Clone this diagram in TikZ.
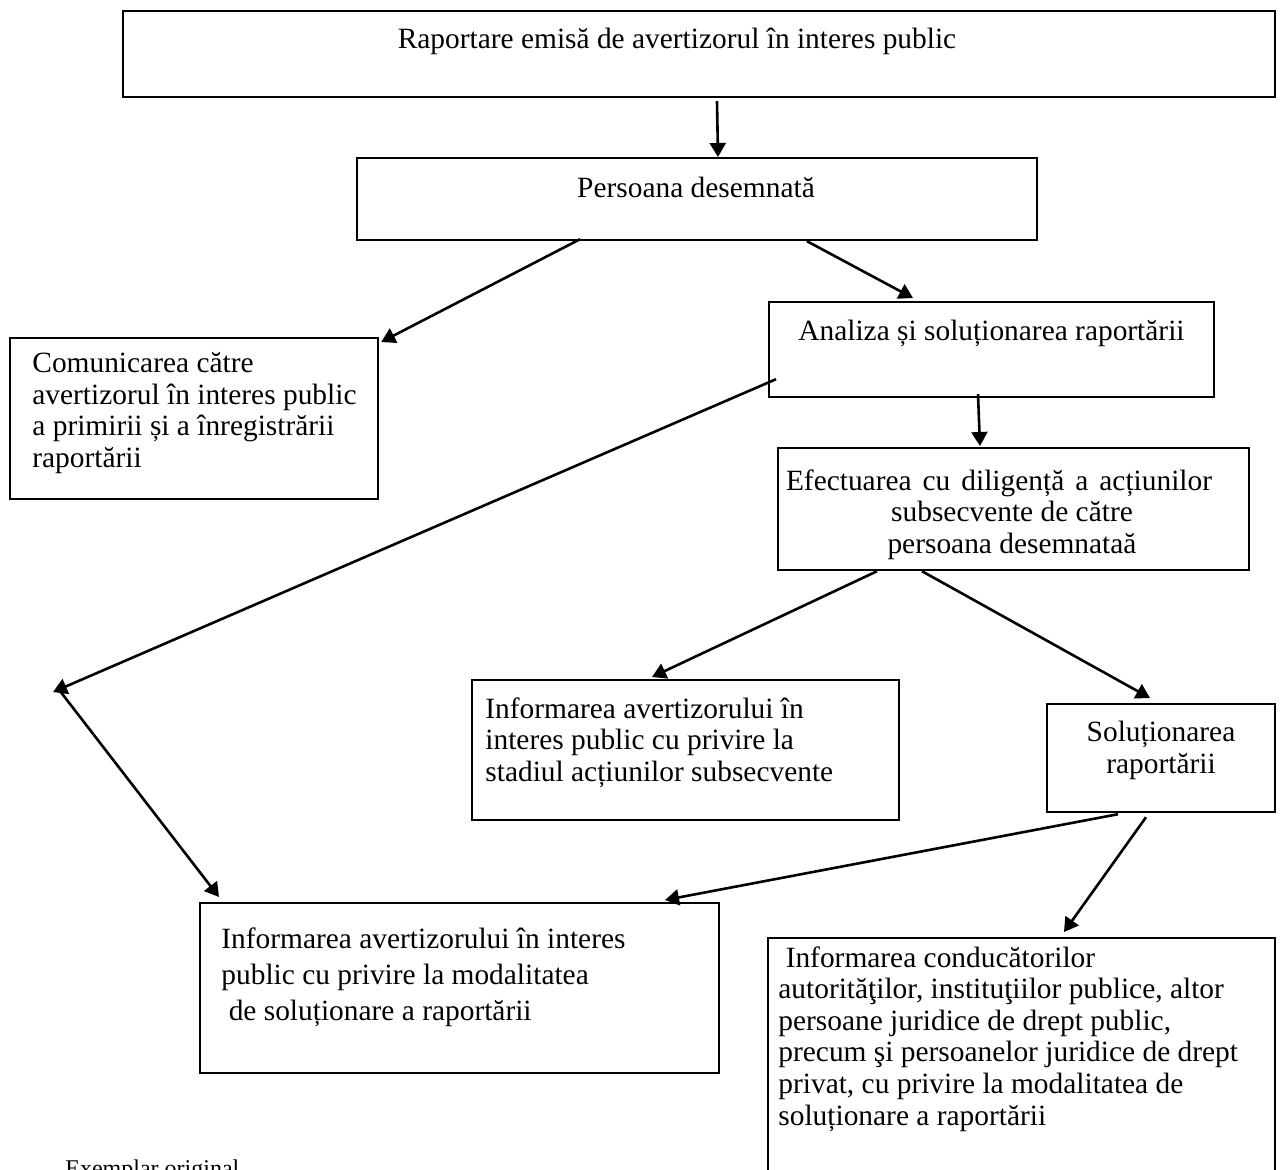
\documentclass[tikz,border=0pt]{standalone}
\usepackage{fontspec}
\setmainfont{Liberation Serif}
\usetikzlibrary{arrows.meta,calc}

\tikzset{
	box/.style={draw, line width=1.1pt, anchor=north west, inner sep=0pt},
	txt/.style={font=\fontsize{14.7}{15.8}\selectfont, inner sep=0pt},
	arr/.style={line width=1.3pt, -{Triangle[length=7pt,width=8pt]}},
}

\begin{document}
	\begin{tikzpicture}[x=0.5pt,y=-0.5pt]
		\useasboundingbox (0,0) rectangle (1280,1169);
		
		%boxes
		\node[box, minimum width=576pt, minimum height=43pt] (raport) at (122,10) {};
		\node[box, minimum width=340pt, minimum height=41pt] (pers) at (356,157) {};
		\node[box, minimum width=184pt, minimum height=80.5pt] (comm) at (9,337) {};
		\node[box, minimum width=222.5pt, minimum height=47.5pt] (anal) at (768,301) {};
		\node[box, minimum width=235.5pt, minimum height=61pt] (efec) at (777,447) {};
		\node[box, minimum width=213.5pt, minimum height=70pt] (stad) at (471,679) {};
		\node[box, minimum width=114pt, minimum height=54pt] (sol) at (1046,703) {};
		\node[box, minimum width=259.5pt, minimum height=85pt] (modal) at (199,902) {};
		\node[box, minimum width=253.5pt, minimum height=140pt] (cond) at (767,937) {};
		
		%texts
		\node[txt, anchor=base] (raport_t) at (677,48) {Raportare emisă de avertizorul în interes public};
		\node[txt, anchor=base] (pers_t) at (696,197) {Persoana desemnată};
		\node[txt, anchor=north west, align=left] (comm_t) at (32,352) {Comunicarea către\\avertizorul în interes public\\a primirii și a înregistrării\\raportării};
		\node[txt, anchor=base west] (anal_t) at (798,340) {Analiza și soluționarea raportării};
		\node[txt, anchor=north, align=center] (efec_t) at (1012,469) {\makebox[213pt][s]{Efectuarea cu diligență a acțiunilor}\hspace*{13pt}\\subsecvente de către\\persoana desemnataă};
		\node[txt, anchor=north west, align=left] (stad_t) at (485,697) {Informarea avertizorului în\\interes public cu privire la\\stadiul acțiunilor subsecvente};
		\node[txt, anchor=north, align=center] (sol_t) at (1161,721) {Soluționarea\\raportării};
		\node[txt, anchor=north west, align=left, font=\fontsize{14.7}{18}\selectfont] (modal_t) at (221,927) {Informarea avertizorului în interes\\public cu privire la modalitatea\\\hspace*{.25em}de soluționare a raportării};
		\node[txt, anchor=north west, align=left] (cond_t) at (778,946) {\hspace*{.25em}Informarea conducătorilor\\autorităţilor, instituţiilor publice, altor\\persoane juridice de drept public,\\precum şi persoanelor juridice de drept\\privat, cu privire la modalitatea de\\soluționare a raportării};
		\node[anchor=base west, inner sep=0pt, font=\fontsize{12}{14}\selectfont] (exemplar) at (65,1176) {Exemplar original};
		
		%connections
		\coordinate (bend) at (53,692);
		\draw[arr] ($(raport.south west)+(595,3)$) -- ($(pers.north west)+(362,0)$);
		\draw[arr] ($(pers.south west)+(224,-2)$) -- ($(comm.north east)+(2,5)$);
		\draw[arr] ($(pers.south west)+(451,0)$) -- ($(anal.north west)+(145,-3)$);
		\draw[arr] ($(anal.south west)+(210,-4)$) -- ($(efec.north west)+(203,-1)$);
		\draw[arr] ($(anal.south west)+(8,-19)$) -- (bend);
		\draw[arr] ($(bend)+(7,-1)$) -- ($(modal.north west)+(20,-5)$);
		\draw[arr] ($(efec.south west)+(100,0)$) -- ($(stad.north west)+(181,-2)$);
		\draw[arr] ($(efec.south west)+(145,0)$) -- ($(sol.north west)+(104,-5)$);
		\draw[arr] ($(sol.south west)+(72,1)$) -- ($(modal.north west)+(466,-2)$);
		\draw[arr] ($(sol.south west)+(100,4)$) -- ($(cond.north west)+(297,-5)$);
		
	\end{tikzpicture}
\end{document}
